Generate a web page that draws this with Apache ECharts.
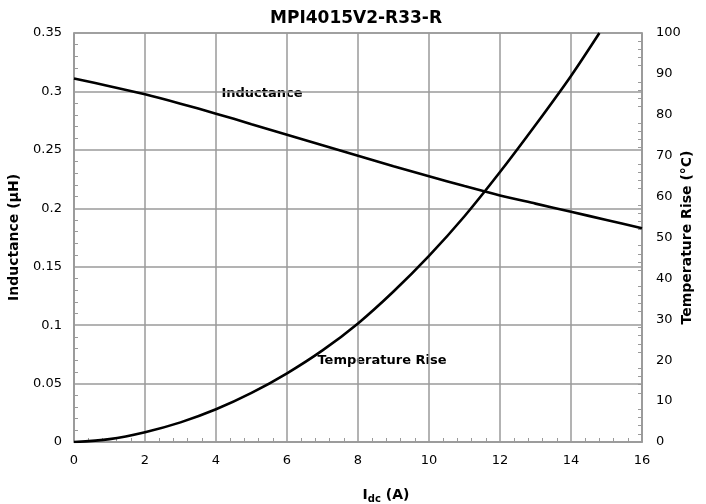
<!DOCTYPE html>
<html>
<head>
<meta charset="utf-8">
<script src="https://cdn.jsdelivr.net/npm/echarts@6/dist/echarts.min.js"></script>
<style>html,body{margin:0;padding:0;background:#fff;}#c{width:706px;height:504px;}</style>
</head>
<body>
<div id="c"></div>
<script>
var titleText = 'MPI4015V2-R33-R';
var currentA = [0, 1, 2, 3, 4, 5, 6, 7, 8, 9, 10, 11, 12, 13, 14, 15, 16];
var inductance = [0.311, 0.3045, 0.2975, 0.2895, 0.281, 0.272, 0.263, 0.254, 0.245, 0.236, 0.2275, 0.219, 0.211, 0.204, 0.197, 0.190, 0.183];
var tempCurrent = [0, 1, 2, 3, 4, 5, 6, 7, 8, 9, 10, 11, 12, 13, 14, 14.8];
var tempRise = [0, 0.7, 2.4, 4.8, 8.0, 12.0, 16.8, 22.4, 29.0, 36.8, 45.5, 55.2, 66, 77.5, 89.5, 100];

var FONT = 'DejaVu Sans';
var GRID = '#9a9a9a';

function pairs(xs, ys) { return xs.map(function (x, i) { return [x, ys[i]]; }); }

var chart = echarts.init(document.getElementById('c'), null, {renderer: 'canvas'});
chart.setOption({
  animation: false,
  backgroundColor: '#fff',
  title: {
    text: titleText, left: 351, top: 5, textAlign: 'center',
    textStyle: {fontFamily: FONT, fontSize: 17, fontWeight: 'bold', color: '#000'}
  },
  grid: {left: 74, right: 64, top: 33, bottom: 62, show: true, borderColor: GRID, borderWidth: 1.5,
         containLabel: false, outerBoundsMode: 'none'},
  xAxis: {
    type: 'value', min: 0, max: 16, interval: 2,
    name: '{i|I}{s|dc}{i| (A)}',
    nameLocation: 'middle', nameGap: 44, nameMoveOverlap: false,
    nameTextStyle: {
      padding: [0, 0, 0, 56],
      rich: {
        i: {fontFamily: FONT, fontSize: 14, fontWeight: 'bold', color: '#000'},
        s: {fontFamily: FONT, fontSize: 10, fontWeight: 'bold', color: '#000', verticalAlign: 'bottom', padding: [8, 0, 0, 0]}
      }
    },
    axisLine: {show: true, lineStyle: {color: GRID, width: 1.5}},
    axisTick: {show: false, inside: true},
    minorTick: {show: true, splitNumber: 5, length: 4, lineStyle: {color: GRID, width: 1}},
    axisLabel: {fontFamily: FONT, fontSize: 13, color: '#000', margin: 12},
    splitLine: {show: true, lineStyle: {color: GRID, width: 1.5}}
  },
  yAxis: [{
    type: 'value', min: 0, max: 0.35, interval: 0.05,
    name: 'Inductance (µH)', nameLocation: 'middle', nameGap: 53, nameMoveOverlap: false,
    nameTextStyle: {fontFamily: FONT, fontSize: 14, fontWeight: 'bold', color: '#000'},
    axisLine: {show: true, lineStyle: {color: GRID, width: 1.5}},
    axisTick: {show: false, inside: true},
    minorTick: {show: true, splitNumber: 5, length: 4, lineStyle: {color: GRID, width: 1}},
    axisLabel: {fontFamily: FONT, fontSize: 13, color: '#000', margin: 12},
    splitLine: {show: true, lineStyle: {color: GRID, width: 1.5}}
  }, {
    type: 'value', min: 0, max: 100, interval: 10, position: 'right',
    name: 'Temperature Rise (°C)', nameLocation: 'middle', nameGap: 38, nameMoveOverlap: false,
    nameTextStyle: {fontFamily: FONT, fontSize: 14, fontWeight: 'bold', color: '#000'},
    axisLine: {show: true, lineStyle: {color: GRID, width: 1.5}},
    axisTick: {show: false, inside: true},
    minorTick: {show: true, splitNumber: 5, length: 4, lineStyle: {color: GRID, width: 1}},
    axisLabel: {fontFamily: FONT, fontSize: 13, color: '#000', margin: 14},
    splitLine: {show: false}
  }],
  graphic: [
    {type: 'text', x: 262, y: 94, style: {text: 'Inductance', fontFamily: FONT, fontSize: 13, fontWeight: 'bold', fill: '#000', textAlign: 'center', textVerticalAlign: 'middle'}},
    {type: 'text', x: 382, y: 361, style: {text: 'Temperature Rise', fontFamily: FONT, fontSize: 13, fontWeight: 'bold', fill: '#000', textAlign: 'center', textVerticalAlign: 'middle'}}
  ],
  series: [{
    name: 'Inductance', type: 'line', yAxisIndex: 0, smooth: 0.3, showSymbol: false,
    data: pairs(currentA, inductance),
    lineStyle: {color: '#000', width: 2.6}
  }, {
    name: 'Temperature Rise', type: 'line', yAxisIndex: 1, smooth: 0.3, showSymbol: false,
    data: pairs(tempCurrent, tempRise),
    lineStyle: {color: '#000', width: 2.6}
  }]
});
</script>
</body>
</html>
